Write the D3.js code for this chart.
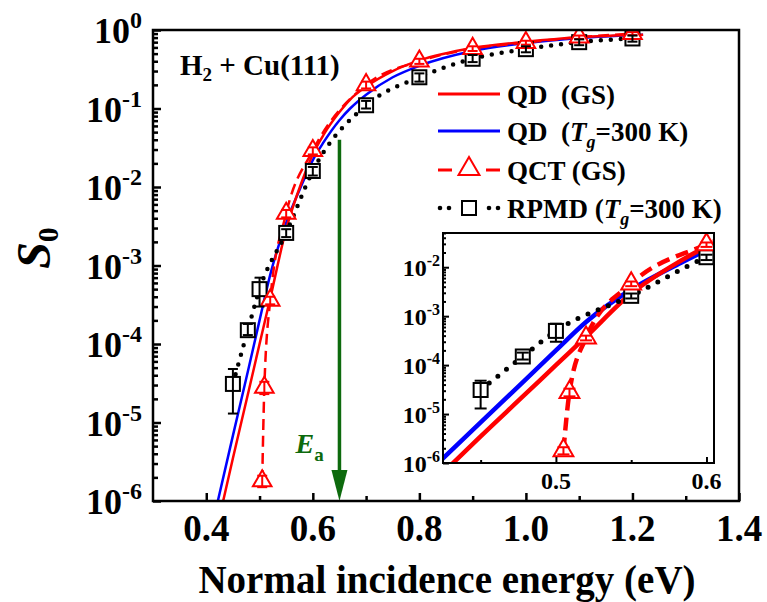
<!DOCTYPE html>
<html>
<head>
<meta charset="utf-8">
<script src="https://cdn.jsdelivr.net/npm/d3@7"></script>
<style>
  body { margin: 0; background: #fff; }
  svg { display: block; }
  text { font-family: "Liberation Serif", "Times New Roman", serif; font-weight: bold; fill: #000; white-space: pre; }
</style>
</head>
<body>
<div id="chart"></div>
<script>
// ---------- data ----------
const QD_GS_E = [0.43, 0.45, 0.48, 0.50, 0.52, 0.55, 0.58, 0.60, 0.62, 0.65, 0.67, 0.70, 0.75, 0.80, 0.90, 1.00, 1.10, 1.22];
const QD_GS_S = [8.9e-7, 3.5e-6, 2.6e-5, 1.0e-4, 3.8e-4, 2.9e-3, 1.2e-2, 2.6e-2, 4.6e-2, 9.0e-2, 0.13, 0.19, 0.30, 0.41, 0.59, 0.71, 0.81, 0.87];

const QD_300_E = [0.42, 0.45, 0.48, 0.50, 0.52, 0.55, 0.58, 0.60, 0.62, 0.65, 0.67, 0.70, 0.75, 0.80, 0.90, 1.00, 1.10, 1.22];
const QD_300_S = [8.9e-7, 6.8e-6, 5.1e-5, 2.0e-4, 7.6e-4, 3.5e-3, 1.1e-2, 2.2e-2, 3.7e-2, 7.1e-2, 0.10, 0.15, 0.25, 0.35, 0.54, 0.68, 0.79, 0.87];

const QCT_E  = [0.505, 0.509, 0.52, 0.55, 0.60, 0.70, 0.80, 0.90, 1.00, 1.10, 1.20];
const QCT_S  = [1.8e-6, 2.8e-5, 3.6e-4, 4.6e-3, 2.9e-2, 0.20, 0.40, 0.58, 0.69, 0.81, 0.90];
const QCT_LO = [1.5e-6, 2.3e-5, 3.2e-4, 4.1e-3, 2.6e-2, 0.18, 0.37, 0.54, 0.65, 0.77, 0.86];
const QCT_HI = [2.1e-6, 3.3e-5, 4.0e-4, 5.1e-3, 3.2e-2, 0.22, 0.43, 0.62, 0.73, 0.85, 0.94];

const RPMD_E  = [0.45, 0.478, 0.50, 0.55, 0.60, 0.70, 0.80, 0.90, 1.00, 1.10, 1.20];
const RPMD_S  = [3.1e-5, 1.5e-4, 5.0e-4, 2.6e-3, 1.6e-2, 0.11, 0.25, 0.43, 0.57, 0.70, 0.78];
const RPMD_LO = [1.3e-5, 1.3e-4, 3.0e-4, 2.3e-3, 1.4e-2, 0.10, 0.22, 0.39, 0.52, 0.64, 0.71];
const RPMD_HI = [4.8e-5, 1.8e-4, 7.0e-4, 2.9e-3, 1.8e-2, 0.125, 0.28, 0.48, 0.62, 0.76, 0.85];

const EA = 0.65;        // activation energy arrow
const EA_TOP = 0.04;

const X_MAJOR = [0.4, 0.6, 0.8, 1.0, 1.2, 1.4];
const X_MINOR = [0.5, 0.7, 0.9, 1.1, 1.3];
const Y_DECADES = [1e-6, 1e-5, 1e-4, 1e-3, 1e-2, 1e-1, 1];

const INSET_X_MAJOR = [0.5, 0.6];
const INSET_X_MINOR = [0.45, 0.55];
const INSET_Y_DECADES = [1e-6, 1e-5, 1e-4, 1e-3, 1e-2];

const RED = "#ff0000", BLUE = "#0000ff", GREEN = "#0d6a0d";

// ---------- layout ----------
const W = 767, H = 602;
const main = { left: 153, right: 739, top: 30, bottom: 501 };
const ins  = { left: 443, right: 714, top: 233, bottom: 463 };

const svg = d3.select("#chart").append("svg").attr("width", W).attr("height", H);
const defs = svg.append("defs");

const x  = d3.scaleLinear().domain([0.3, 1.4]).range([main.left, main.right]);
const y  = d3.scaleLog().domain([1e-6, 1]).range([main.bottom, main.top]);
const xi = d3.scaleLinear().domain([0.425, 0.605]).range([ins.left, ins.right]);
const yi = d3.scaleLog().domain([1e-6, 0.05]).range([ins.bottom, ins.top]);

const zip = (E, S) => E.map((e, i) => ({ e, s: S[i] }));
const qdGs  = zip(QD_GS_E, QD_GS_S);
const qd300 = zip(QD_300_E, QD_300_S);
const qct   = QCT_E.map((e, i) => ({ e, s: QCT_S[i], lo: QCT_LO[i], hi: QCT_HI[i] }));
const rpmd  = RPMD_E.map((e, i) => ({ e, s: RPMD_S[i], lo: RPMD_LO[i], hi: RPMD_HI[i] }));

// ------------------------------
// series (used for main plot and inset)
// ------------------------------
function drawSeries(g, sx, sy, box, clipId, st) {
  defs.append("clipPath").attr("id", clipId)
    .append("rect")
    .attr("x", box.left).attr("y", box.top)
    .attr("width", box.right - box.left).attr("height", box.bottom - box.top);

  const layer = g.append("g").attr("clip-path", `url(#${clipId})`);
  const line = d3.line().x(d => sx(d.e)).y(d => sy(d.s)).curve(d3.curveMonotoneX);

  layer.append("path").datum(qd300)
    .attr("d", line).attr("fill", "none")
    .attr("stroke", BLUE).attr("stroke-width", st.lw);

  layer.append("path").datum(qdGs)
    .attr("d", line).attr("fill", "none")
    .attr("stroke", RED).attr("stroke-width", st.lw);

  layer.append("path").datum(qct)
    .attr("d", line).attr("fill", "none")
    .attr("stroke", RED).attr("stroke-width", st.lw)
    .attr("stroke-dasharray", st.dash);

  layer.append("path").datum(rpmd)
    .attr("d", line).attr("fill", "none")
    .attr("stroke", "#000").attr("stroke-width", st.dot)
    .attr("stroke-linecap", "round")
    .attr("stroke-dasharray", `0 ${st.dotGap}`);

  // squares
  layer.selectAll(".sq").data(rpmd).enter().append("rect")
    .attr("x", d => sx(d.e) - st.sq / 2)
    .attr("y", d => sy(d.s) - st.sq / 2)
    .attr("width", st.sq).attr("height", st.sq)
    .attr("fill", "#fff").attr("stroke", "#000").attr("stroke-width", 2);

  // triangles
  const tri = d3.symbol().type(d3.symbolTriangle).size(st.tri);
  layer.selectAll(".tri").data(qct).enter().append("path")
    .attr("d", tri)
    .attr("transform", d => `translate(${sx(d.e)},${sy(d.s)})`)
    .attr("fill", "#fff").attr("stroke", RED).attr("stroke-width", 2);

  // error bars
  function errBars(data, color) {
    const eg = layer.append("g").attr("stroke", color).attr("stroke-width", 2);
    data.forEach(d => {
      const cx = sx(d.e);
      eg.append("line").attr("x1", cx).attr("x2", cx).attr("y1", sy(d.lo)).attr("y2", sy(d.hi));
      [d.lo, d.hi].forEach(v => {
        eg.append("line").attr("x1", cx - st.cap).attr("x2", cx + st.cap)
          .attr("y1", sy(v)).attr("y2", sy(v));
      });
    });
  }
  errBars(qct, RED);
  errBars(rpmd, "#000");
}

// ------------------------------
// frame + inward ticks
// ------------------------------
function drawAxes(g, sx, sy, box, st, xMajor, xMinor) {
  const tickBottom = (vals, len) => {
    const a = g.append("g")
      .attr("transform", `translate(0,${box.bottom})`)
      .call(d3.axisBottom(sx).tickValues(vals).tickSize(-len).tickFormat(""));
    a.select(".domain").remove();
    a.selectAll("line").attr("stroke-width", st.tw);
  };
  tickBottom(xMajor, st.major);
  tickBottom(xMinor, st.minor);

  const allY = sy.ticks().filter(v => v >= sy.domain()[0] && v <= sy.domain()[1]);
  const isDecade = v => Math.abs(Math.log10(v) - Math.round(Math.log10(v))) < 1e-6;
  const tickLeft = (vals, len) => {
    const a = g.append("g")
      .attr("transform", `translate(${box.left},0)`)
      .call(d3.axisLeft(sy).tickValues(vals).tickSize(-len).tickFormat(""));
    a.select(".domain").remove();
    a.selectAll("line").attr("stroke-width", st.tw);
  };
  tickLeft(allY.filter(isDecade), st.major);
  tickLeft(allY.filter(v => !isDecade(v)), st.minor);

  g.append("rect")
    .attr("x", box.left).attr("y", box.top)
    .attr("width", box.right - box.left).attr("height", box.bottom - box.top)
    .attr("fill", "none").attr("stroke", "#000").attr("stroke-width", st.fw);
}

function powLabels(g, sy, vals, xPos, size, supSize, dyBase, supDy) {
  vals.forEach(v => {
    const t = g.append("text")
      .attr("x", xPos).attr("y", sy(v) + dyBase)
      .attr("text-anchor", "end")
      .attr("font-size", size);
    t.append("tspan").text("10");
    t.append("tspan").attr("font-size", supSize).attr("dy", supDy)
      .text(Math.round(Math.log10(v)));
  });
}

// ---------- main plot ----------
const g = svg.append("g");

drawSeries(g, x, y, main, "clip-main",
  { lw: 2.5, dash: "11 6", dot: 4.5, dotGap: 10, sq: 14, tri: 150, cap: 5 });

// E_a arrow
const ax = x(EA);
g.append("line")
  .attr("x1", ax).attr("x2", ax)
  .attr("y1", y(EA_TOP)).attr("y2", main.bottom - 28)
  .attr("stroke", GREEN).attr("stroke-width", 3.5);
g.append("path")
  .attr("d", `M${ax - 8},${main.bottom - 31} L${ax + 8},${main.bottom - 31} L${ax},${main.bottom} Z`)
  .attr("fill", GREEN);
const ea = g.append("text").attr("x", ax - 44).attr("y", 453)
  .attr("font-size", 28).style("fill", GREEN);
ea.append("tspan").attr("font-style", "italic").text("E");
ea.append("tspan").attr("font-size", 19).attr("dy", 8).text("a");

drawAxes(g, x, y, main, { major: 8, minor: 5, tw: 2.5, fw: 2.5 }, X_MAJOR, X_MINOR);

// tick labels
powLabels(g, y, Y_DECADES, 142, 36, 24, 13, -15);
X_MAJOR.forEach(v => {
  g.append("text").attr("x", x(v)).attr("y", 541)
    .attr("text-anchor", "middle").attr("font-size", 37)
    .text(d3.format(".1f")(v));
});

// axis titles
g.append("text")
  .attr("x", 447).attr("y", 593)
  .attr("text-anchor", "middle").attr("font-size", 39)
  .text("Normal incidence energy (eV)");

const yt = g.append("text")
  .attr("transform", "translate(50,248) rotate(-90)")
  .attr("text-anchor", "middle").attr("font-size", 48);
yt.append("tspan").attr("font-style", "italic").text("S");
yt.append("tspan").attr("font-size", 30).attr("dy", 8).text("0");

// system label
const sys = g.append("text").attr("x", 180).attr("y", 75).attr("font-size", 29);
sys.append("tspan").text("H");
sys.append("tspan").attr("font-size", 19).attr("dy", 6).text("2");
sys.append("tspan").attr("dy", -6).text(" + Cu(111)");

// ---------- legend ----------
const LEGEND = [
  { key: "qdgs",  y: 94,  label: [["QD  (GS)"]] },
  { key: "qd300", y: 131, label: [["QD  ("], ["T", "i"], ["g", "s"], ["=300 K)", "b"]] },
  { key: "qct",   y: 170, label: [["QCT (GS)"]] },
  { key: "rpmd",  y: 208, label: [["RPMD ("], ["T", "i"], ["g", "s"], ["=300 K)", "b"]] }
];
const lg = svg.append("g");
const lx0 = 438, lx1 = 500, lxc = 469;
LEGEND.forEach(r => {
  if (r.key === "qdgs" || r.key === "qd300") {
    lg.append("line").attr("x1", lx0).attr("x2", lx1).attr("y1", r.y).attr("y2", r.y)
      .attr("stroke", r.key === "qdgs" ? RED : BLUE).attr("stroke-width", 3);
  } else if (r.key === "qct") {
    [[lx0, lx0 + 14], [lx1 - 14, lx1]].forEach(([a, b]) =>
      lg.append("line").attr("x1", a).attr("x2", b).attr("y1", r.y).attr("y2", r.y)
        .attr("stroke", RED).attr("stroke-width", 3));
    lg.append("path").attr("d", d3.symbol().type(d3.symbolTriangle).size(190))
      .attr("transform", `translate(${lxc},${r.y - 1})`)
      .attr("fill", "#fff").attr("stroke", RED).attr("stroke-width", 2);
  } else {
    [lx0 + 2, lx0 + 11, lx1 - 11, lx1 - 2].forEach(cx =>
      lg.append("circle").attr("cx", cx).attr("cy", r.y).attr("r", 2.3).attr("fill", "#000"));
    lg.append("rect").attr("x", lxc - 7).attr("y", r.y - 7).attr("width", 14).attr("height", 14)
      .attr("fill", "#fff").attr("stroke", "#000").attr("stroke-width", 2);
  }
  const t = lg.append("text").attr("x", 507).attr("y", r.y + 10).attr("font-size", 27);
  r.label.forEach(([s, k]) => {
    const sp = t.append("tspan").text(s);
    if (k === "i") sp.attr("font-style", "italic");
    if (k === "s") sp.attr("font-style", "italic").attr("font-size", 18).attr("dy", 7);
    if (k === "b") sp.attr("dy", -7);
  });
});

// ---------- inset ----------
const gi = svg.append("g");
gi.append("rect")
  .attr("x", ins.left).attr("y", ins.top)
  .attr("width", ins.right - ins.left).attr("height", ins.bottom - ins.top)
  .attr("fill", "#fff");

drawSeries(gi, xi, yi, ins, "clip-inset",
  { lw: 4.5, dash: "13 7", dot: 5, dotGap: 11, sq: 14, tri: 170, cap: 6 });
drawAxes(gi, xi, yi, ins, { major: 6, minor: 3, tw: 2, fw: 2 }, INSET_X_MAJOR, INSET_X_MINOR);

powLabels(gi, yi, INSET_Y_DECADES, 440, 24, 16, 9, -10);
INSET_X_MAJOR.forEach(v => {
  gi.append("text").attr("x", xi(v)).attr("y", 489)
    .attr("text-anchor", "middle").attr("font-size", 24)
    .text(d3.format(".1f")(v));
});
</script>
</body>
</html>
